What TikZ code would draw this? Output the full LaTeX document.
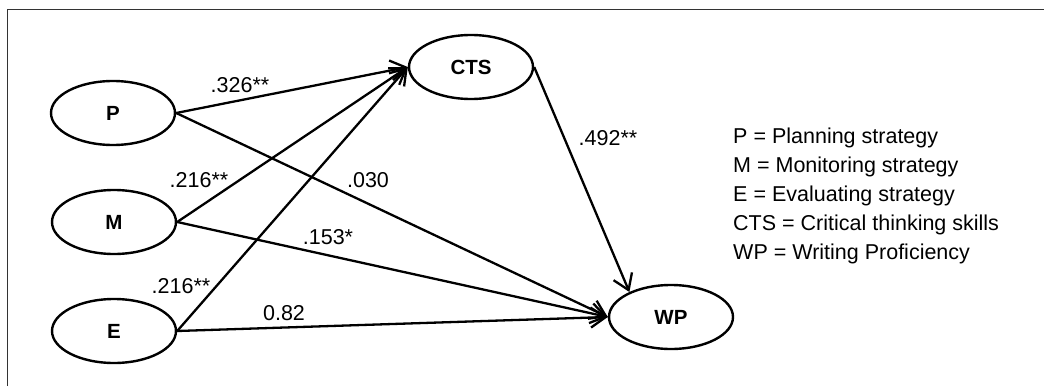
\documentclass[tikz,border=0pt]{standalone}
\usepackage{fontspec}
\setmainfont{Liberation Sans}
\usetikzlibrary{arrows.meta,shapes.geometric}
\begin{document}
\begin{tikzpicture}[x=1pt,y=-1pt,
  latent/.style={ellipse,draw,line width=2.4pt,minimum width=124pt,minimum height=64pt,
    inner sep=0pt,font=\fontsize{20.5}{24}\selectfont\bfseries},
  path/.style={line width=2.3pt,-{Straight Barb[length=15pt,width=20pt,line width=2.3pt]}},
  coef/.style={anchor=base,inner sep=0pt,font=\fontsize{21.5}{26}\selectfont},
  legend/.style={anchor=base west,inner sep=0pt,font=\fontsize{21.5}{26}\selectfont}]
\useasboundingbox (0,0) rectangle (1044,386);
% frame (top and left edges)
\draw[line width=1.2pt,black!80] (7.5,386) -- (7.5,9.5) -- (1044,9.5);
% latent variables
\node[latent] (P) at (113,113) {P};
\node[latent] (M) at (114,222) {M};
\node[latent] (E) at (114,331) {E};
\node[latent] (CTS) at (471,67) {CTS};
\node[latent] (WP) at (671,317) {WP};
% structural paths
\draw[path] (P.east) -- (CTS.west);
\draw[path] (M.east) -- (CTS.west);
\draw[path] (E.east) -- (CTS.west);
\draw[path] (P.east) -- (WP.west);
\draw[path] (M.east) -- (WP.west);
\draw[path] (E.east) -- (WP.west);
\draw[path] (CTS.east) -- (WP.149);
% path coefficients
\node[coef] (c1) at (240,92) {.326**};
\node[coef] (c2) at (199,187) {.216**};
\node[coef] (c3) at (368,187) {.030};
\node[coef] (c4) at (181,293) {.216**};
\node[coef] (c5) at (328,244) {.153*};
\node[coef] (c6) at (284,320) {0.82};
\node[coef] (c7) at (608,145) {.492**};
% legend
\node[legend] (l1) at (733,143) {P = Planning strategy};
\node[legend] (l2) at (733,172) {M = Monitoring strategy};
\node[legend] (l3) at (733,201) {E = Evaluating strategy};
\node[legend] (l4) at (733,230) {CTS = Critical thinking skills};
\node[legend] (l5) at (733,259) {WP = Writing Proficiency};
\end{tikzpicture}
\end{document}
